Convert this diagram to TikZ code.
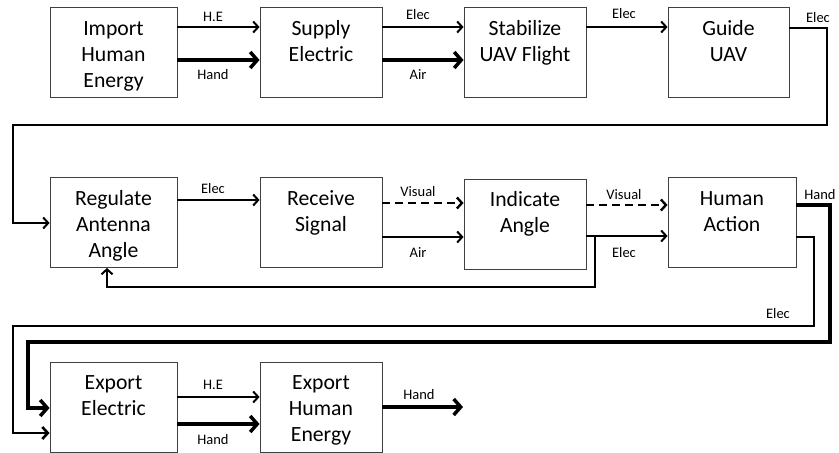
\documentclass[tikz,border=0pt]{standalone}
\usepackage{fontspec}
\setmainfont{Carlito}
\usetikzlibrary{arrows.meta}
\begin{document}
\begin{tikzpicture}[x=1pt,y=-1pt,
  box/.style={draw=black!75, line width=0.9pt, inner sep=0pt, minimum height=90pt},
  boxtext/.style={anchor=base, align=center, inner sep=0pt, font=\fontsize{21.7}{26}\selectfont},
  lbl/.style={inner sep=0pt, font=\fontsize{14.5}{17}\selectfont},
  thinarrow/.style={line width=2pt, -{Straight Barb[length=5pt,width=11pt]}},
  medarrow/.style={line width=2.6pt, -{Straight Barb[length=5.5pt,width=12pt]}},
  thickarrow/.style={line width=3.5pt, -{Straight Barb[length=7pt,width=16pt]}},
  dasharrow/.style={line width=2.4pt, dash pattern=on 8pt off 5pt, -{Straight Barb[length=5pt,width=11pt]}},
]
\useasboundingbox (0,0) rectangle (839,453);

% boxes
\node[box, minimum width=127pt] (imp) at (113.5,52) {};
\node[box, minimum width=122pt] (sup) at (321,52) {};
\node[box, minimum width=122pt] (stab) at (525,52) {};
\node[box, minimum width=121pt] (guide) at (728.5,52) {};
\node[box, minimum width=127pt] (reg) at (113.5,222.5) {};
\node[box, minimum width=122pt] (rec) at (321,222.5) {};
\node[box, minimum width=122pt] (ind) at (525,224) {};
\node[box, minimum width=128pt] (hum) at (732,222.5) {};
\node[box, minimum width=127pt] (exp) at (113.5,407) {};
\node[box, minimum width=122pt] (ehe) at (321,407) {};

% box texts (base anchor = baseline of last line)
\node[boxtext] (timp) at ([yshift=-81pt]imp.north) {Import\\Human\\Energy};
\node[boxtext] (tsup) at ([yshift=-55pt]sup.north) {Supply\\Electric};
\node[boxtext] (tstab) at ([yshift=-55pt]stab.north) {Stabilize\\UAV Flight};
\node[boxtext] (tguide) at ([yshift=-55pt]guide.north) {Guide\\UAV};
\node[boxtext] (treg) at ([yshift=-80pt]reg.north) {Regulate\\Antenna\\Angle};
\node[boxtext] (trec) at ([yshift=-54pt]rec.north) {Receive\\Signal};
\node[boxtext] (tind) at ([yshift=-54pt]ind.north) {Indicate\\Angle};
\node[boxtext] (thum) at ([yshift=-54pt]hum.north) {Human\\Action};
\node[boxtext] (texp) at ([yshift=-54pt]exp.north) {Export\\Electric};
\node[boxtext] (tehe) at ([yshift=-80pt]ehe.north) {Export\\Human\\Energy};

% level coordinates
\coordinate (r1a) at (0,27);
\coordinate (r1b) at (0,60);
\coordinate (r1g) at (0,28);
\coordinate (r2a) at (0,200);
\coordinate (r2v) at (0,203);
\coordinate (r2w) at (0,205);
\coordinate (r2b) at (0,237);
\coordinate (r2e) at (0,236);
\coordinate (r3a) at (0,397);
\coordinate (r3b) at (0,424);
\coordinate (r3c) at (0,407);
\coordinate (g1) at (827,125);
\coordinate (g2) at (13,223);
\coordinate (fb) at (595,236);
\coordinate (fb2) at (107,287);
\coordinate (h1) at (830,342);
\coordinate (h2) at (28,408);
\coordinate (e1) at (814,326);
\coordinate (e2) at (13,433);
\coordinate (endc) at (463,407);

% row 1
\draw[thinarrow] (imp.east |- r1a) -- (sup.west |- r1a);
\draw[thickarrow] (imp.east |- r1b) -- (sup.west |- r1b);
\draw[thinarrow] (sup.east |- r1a) -- (stab.west |- r1a);
\draw[thickarrow] (sup.east |- r1b) -- (stab.west |- r1b);
\draw[thinarrow] (stab.east |- r1a) -- (guide.west |- r1a);
\draw[thinarrow] (guide.east |- r1g) -| (g1) -| (g2) -- (reg.west |- g2);

% row 2
\draw[thinarrow] (reg.east |- r2a) -- (rec.west |- r2a);
\draw[dasharrow] (rec.east |- r2v) -- (ind.west |- r2v);
\draw[thinarrow] (rec.east |- r2b) -- (ind.west |- r2b);
\draw[dasharrow] (ind.east |- r2w) -- (hum.west |- r2w);
\draw[thinarrow] (ind.east |- r2e) -- (hum.west |- r2e);
\draw[thinarrow] (fb) |- (fb2) -- (reg.south -| fb2);
\draw[thickarrow] (hum.east |- r2w) -| (h1) -| (h2) -- (exp.west |- h2);
\draw[medarrow] (hum.east |- r2b) -| (e1) -| (e2) -- (exp.west |- e2);

% row 3
\draw[thinarrow] (exp.east |- r3a) -- (ehe.west |- r3a);
\draw[thickarrow] (exp.east |- r3b) -- (ehe.west |- r3b);
\draw[thickarrow] (ehe.east |- r3c) -- (endc);

% labels
\node[lbl] (l1) at (213,17) {H.E};
\node[lbl] (l2) at (213,75) {Hand};
\node[lbl] (l3) at (418,15) {Elec};
\node[lbl] (l4) at (418,75) {Air};
\node[lbl] (l5) at (624,14) {Elec};
\node[lbl] (l6) at (818,18) {Elec};
\node[lbl] (l7) at (213,189) {Elec};
\node[lbl] (l8) at (418,192) {Visual};
\node[lbl] (l9) at (418,253) {Air};
\node[lbl] (l10) at (624,195) {Visual};
\node[lbl] (l11) at (624,253) {Elec};
\node[lbl] (l12) at (820,195) {Hand};
\node[lbl] (l13) at (778,314) {Elec};
\node[lbl] (l14) at (213,385) {H.E};
\node[lbl] (l15) at (213,440) {Hand};
\node[lbl] (l16) at (419,395) {Hand};
\end{tikzpicture}
\end{document}
